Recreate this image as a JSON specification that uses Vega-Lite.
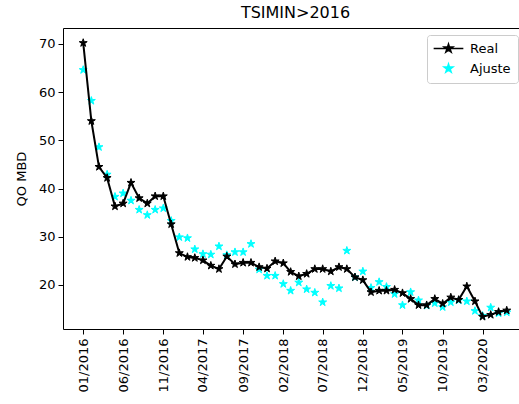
{
  "$schema": "https://vega.github.io/schema/vega-lite/v6.json",
  "width": 465,
  "height": 301,
  "autosize": {"type": "none"},
  "padding": {"left": 63, "top": 28, "right": 0, "bottom": 75},
  "title": {"text": "TSIMIN>2016", "font": "DejaVu Sans", "fontSize": 16, "fontWeight": "normal", "color": "black", "offset": 7, "anchor": "middle"},
  "datasets": {
    "produccion": [
      {"fecha": "2016-01-01", "Real": 70.2, "Ajuste": 64.6},
      {"fecha": "2016-02-01", "Real": 54.0, "Ajuste": 58.2},
      {"fecha": "2016-03-01", "Real": 44.5, "Ajuste": 48.6},
      {"fecha": "2016-04-01", "Real": 42.2, "Ajuste": 42.9},
      {"fecha": "2016-05-01", "Real": 36.3, "Ajuste": 38.3},
      {"fecha": "2016-06-01", "Real": 36.9, "Ajuste": 39.0},
      {"fecha": "2016-07-01", "Real": 41.2, "Ajuste": 37.5},
      {"fecha": "2016-08-01", "Real": 38.0, "Ajuste": 35.6},
      {"fecha": "2016-09-01", "Real": 36.9, "Ajuste": 34.5},
      {"fecha": "2016-10-01", "Real": 38.4, "Ajuste": 35.6},
      {"fecha": "2016-11-01", "Real": 38.4, "Ajuste": 35.9},
      {"fecha": "2016-12-01", "Real": 32.6, "Ajuste": 33.3},
      {"fecha": "2017-01-01", "Real": 26.6, "Ajuste": 29.9},
      {"fecha": "2017-02-01", "Real": 25.8, "Ajuste": 29.7},
      {"fecha": "2017-03-01", "Real": 25.6, "Ajuste": 27.4},
      {"fecha": "2017-04-01", "Real": 25.1, "Ajuste": 26.4},
      {"fecha": "2017-05-01", "Real": 24.0, "Ajuste": 26.3},
      {"fecha": "2017-06-01", "Real": 23.3, "Ajuste": 28.0},
      {"fecha": "2017-07-01", "Real": 25.9, "Ajuste": 26.2},
      {"fecha": "2017-08-01", "Real": 24.3, "Ajuste": 26.8},
      {"fecha": "2017-09-01", "Real": 24.6, "Ajuste": 26.8},
      {"fecha": "2017-10-01", "Real": 24.6, "Ajuste": 28.5},
      {"fecha": "2017-11-01", "Real": 23.7, "Ajuste": 23.2},
      {"fecha": "2017-12-01", "Real": 23.4, "Ajuste": 21.9},
      {"fecha": "2018-01-01", "Real": 24.9, "Ajuste": 21.9},
      {"fecha": "2018-02-01", "Real": 24.5, "Ajuste": 20.2},
      {"fecha": "2018-03-01", "Real": 22.7, "Ajuste": 18.8},
      {"fecha": "2018-04-01", "Real": 21.8, "Ajuste": 20.5},
      {"fecha": "2018-05-01", "Real": 22.3, "Ajuste": 19.1},
      {"fecha": "2018-06-01", "Real": 23.3, "Ajuste": 18.4},
      {"fecha": "2018-07-01", "Real": 23.3, "Ajuste": 16.4},
      {"fecha": "2018-08-01", "Real": 22.8, "Ajuste": 19.8},
      {"fecha": "2018-09-01", "Real": 23.7, "Ajuste": 19.3},
      {"fecha": "2018-10-01", "Real": 23.3, "Ajuste": 27.1},
      {"fecha": "2018-11-01", "Real": 21.6, "Ajuste": 21.6},
      {"fecha": "2018-12-01", "Real": 21.0, "Ajuste": 22.8},
      {"fecha": "2019-01-01", "Real": 18.5, "Ajuste": 19.4},
      {"fecha": "2019-02-01", "Real": 18.8, "Ajuste": 20.6},
      {"fecha": "2019-03-01", "Real": 18.8, "Ajuste": 19.6},
      {"fecha": "2019-04-01", "Real": 19.0, "Ajuste": 18.1},
      {"fecha": "2019-05-01", "Real": 18.3, "Ajuste": 15.8},
      {"fecha": "2019-06-01", "Real": 17.1, "Ajuste": 18.5},
      {"fecha": "2019-07-01", "Real": 15.8, "Ajuste": 16.8},
      {"fecha": "2019-08-01", "Real": 15.8, "Ajuste": 15.7},
      {"fecha": "2019-09-01", "Real": 17.1, "Ajuste": 16.2},
      {"fecha": "2019-10-01", "Real": 16.1, "Ajuste": 15.4},
      {"fecha": "2019-11-01", "Real": 17.4, "Ajuste": 16.4},
      {"fecha": "2019-12-01", "Real": 16.9, "Ajuste": 16.8},
      {"fecha": "2020-01-01", "Real": 19.7, "Ajuste": 16.6},
      {"fecha": "2020-02-01", "Real": 16.6, "Ajuste": 14.6},
      {"fecha": "2020-03-01", "Real": 13.4, "Ajuste": 13.6},
      {"fecha": "2020-04-01", "Real": 13.8, "Ajuste": 15.3},
      {"fecha": "2020-05-01", "Real": 14.4, "Ajuste": 14.1},
      {"fecha": "2020-06-01", "Real": 14.7, "Ajuste": 14.3}
    ]
  },
  "data": {"name": "produccion"},
  "transform": [
    {"fold": ["Real", "Ajuste"], "as": ["serie", "valor"]}
  ],
  "encoding": {
    "x": {
      "field": "fecha",
      "type": "temporal",
      "scale": {
        "type": "utc",
        "domain": [
          {"year": 2015, "month": 10, "date": 16, "utc": true},
          {"year": 2020, "month": 8, "date": 21, "utc": true}
        ]
      },
      "axis": {
        "title": null,
        "labelExpr": "utcFormat(datum.value, '%m/%Y')",
        "labelAngle": 270,
        "labelPadding": 4,
        "values": [
          {"year": 2016, "month": 1, "date": 1, "utc": true},
          {"year": 2016, "month": 6, "date": 1, "utc": true},
          {"year": 2016, "month": 11, "date": 1, "utc": true},
          {"year": 2017, "month": 4, "date": 1, "utc": true},
          {"year": 2017, "month": 9, "date": 1, "utc": true},
          {"year": 2018, "month": 2, "date": 1, "utc": true},
          {"year": 2018, "month": 7, "date": 1, "utc": true},
          {"year": 2018, "month": 12, "date": 1, "utc": true},
          {"year": 2019, "month": 5, "date": 1, "utc": true},
          {"year": 2019, "month": 10, "date": 1, "utc": true},
          {"year": 2020, "month": 3, "date": 1, "utc": true}
        ]
      }
    },
    "y": {
      "field": "valor",
      "type": "quantitative",
      "scale": {"domain": [10.85, 73.3], "nice": false, "zero": false},
      "axis": {"title": "QO MBD", "values": [20, 30, 40, 50, 60, 70], "titlePadding": 10}
    }
  },
  "layer": [
    {
      "transform": [{"filter": "datum.serie === 'Ajuste'"}],
      "mark": {"type": "point", "filled": true, "opacity": 1, "size": 70, "strokeWidth": 1},
      "encoding": {
        "color": {
          "field": "serie",
          "type": "nominal",
          "scale": {"domain": ["Real", "Ajuste"], "range": ["black", "#00ffff"]},
          "legend": {
            "title": null,
            "orient": "none",
            "legendX": 364,
            "legendY": 7,
            "fillColor": "white",
            "strokeColor": "#cccccc",
            "cornerRadius": 3,
            "padding": 7,
            "rowPadding": 5,
            "symbolSize": 81,
            "symbolOffset": 8,
            "symbolStrokeWidth": 1.5,
            "labelOffset": 15,
            "labelFont": "DejaVu Sans",
            "labelFontSize": 13,
            "labelColor": "black"
          }
        },
        "stroke": {
          "field": "serie",
          "type": "nominal",
          "scale": {"domain": ["Real", "Ajuste"], "range": ["black", "#00ffff"]}
        },
        "shape": {
          "field": "serie",
          "type": "nominal",
          "scale": {
            "domain": ["Real", "Ajuste"],
            "range": [
              "M-3.3,0L3.3,0M0,-1L0.225,-0.309L0.951,-0.309L0.363,0.118L0.588,0.809L0,0.382L-0.588,0.809L-0.363,0.118L-0.951,-0.309L-0.225,-0.309Z",
              "M0,-1L0.225,-0.309L0.951,-0.309L0.363,0.118L0.588,0.809L0,0.382L-0.588,0.809L-0.363,0.118L-0.951,-0.309L-0.225,-0.309Z"
            ]
          }
        }
      }
    },
    {
      "transform": [{"filter": "datum.serie === 'Real'"}],
      "mark": {"type": "line", "color": "black", "strokeWidth": 2},
      "encoding": {}
    },
    {
      "transform": [{"filter": "datum.serie === 'Real'"}],
      "mark": {
        "type": "point",
        "filled": true,
        "opacity": 1,
        "size": 70,
        "strokeWidth": 1,
        "shape": "M0,-1L0.225,-0.309L0.951,-0.309L0.363,0.118L0.588,0.809L0,0.382L-0.588,0.809L-0.363,0.118L-0.951,-0.309L-0.225,-0.309Z"
      },
      "encoding": {
        "color": {"field": "serie", "type": "nominal"},
        "stroke": {"field": "serie", "type": "nominal"}
      }
    }
  ],
  "config": {
    "view": {"stroke": "black", "strokeWidth": 1},
    "axis": {
      "domain": false,
      "grid": false,
      "tickColor": "black",
      "tickSize": 5,
      "tickWidth": 1,
      "labelFont": "DejaVu Sans",
      "labelFontSize": 13,
      "labelColor": "black",
      "labelPadding": 3,
      "titleFont": "DejaVu Sans",
      "titleFontSize": 13,
      "titleFontWeight": "normal",
      "titleColor": "black"
    }
  }
}
